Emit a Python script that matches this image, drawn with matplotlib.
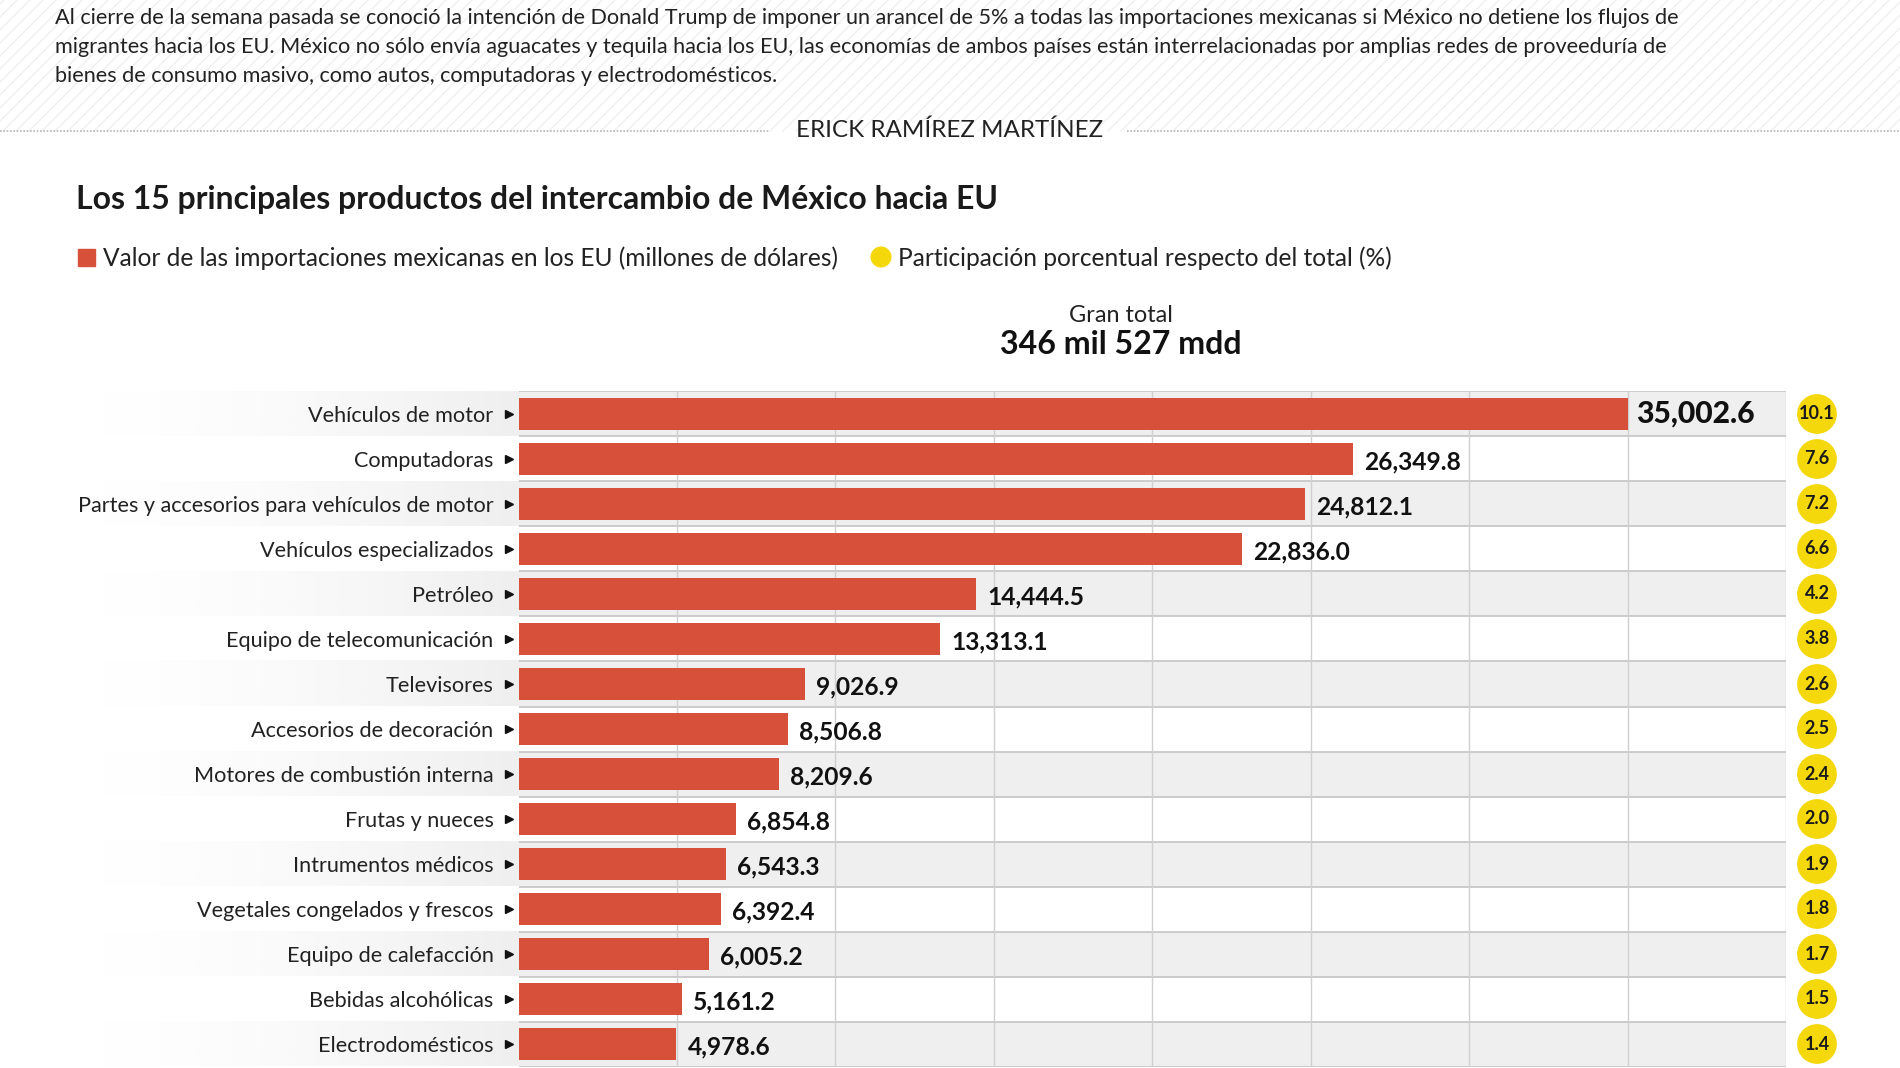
import numpy as np
import matplotlib.pyplot as plt
from matplotlib.transforms import blended_transform_factory
from matplotlib.patches import Rectangle

plt.rcParams['font.family'] = ['Lato', 'DejaVu Sans']

productos = ["Vehículos de motor", "Computadoras", "Partes y accesorios para vehículos de motor",
             "Vehículos especializados", "Petróleo", "Equipo de telecomunicación", "Televisores",
             "Accesorios de decoración", "Motores de combustión interna", "Frutas y nueces",
             "Intrumentos médicos", "Vegetales congelados y frescos", "Equipo de calefacción",
             "Bebidas alcohólicas", "Electrodomésticos"]
valores = [35002.6, 26349.8, 24812.1, 22836.0, 14444.5, 13313.1, 9026.9, 8506.8,
           8209.6, 6854.8, 6543.3, 6392.4, 6005.2, 5161.2, 4978.6]
participacion = [10.1, 7.6, 7.2, 6.6, 4.2, 3.8, 2.6, 2.5, 2.4, 2.0, 1.9, 1.8, 1.7, 1.5, 1.4]

parrafo = ["Al cierre de la semana pasada se conoció la intención de Donald Trump de imponer un arancel de 5% a todas las importaciones mexicanas si México no detiene los flujos de",
           "migrantes hacia los EU. México no sólo envía aguacates y tequila hacia los EU, las economías de ambos países están interrelacionadas por amplias redes de proveeduría de",
           "bienes de consumo masivo, como autos, computadoras y electrodomésticos."]

ROJO = '#d6503a'
AMARILLO = '#f5d80c'
GRIS = '#efefef'
W, H = 1900, 1068

fig = plt.figure(figsize=(19, 10.68), dpi=100)
fig.patch.set_facecolor('white')
renderer = fig.canvas.get_renderer()


def ajustar(t, ancho):
    # escala el tamano de letra para que el texto ocupe 'ancho' pixeles
    w = t.get_window_extent(renderer).width
    t.set_fontsize(t.get_fontsize() * ancho / w)
    return t.get_fontsize()


# fondo en pixeles
bg = fig.add_axes([0, 0, 1, 1])
bg.set_xlim(0, W)
bg.set_ylim(H, 0)
bg.axis('off')
for x0 in np.arange(-140, W + 20, 13):
    bg.plot([x0, x0 + 131], [131, 0], color='#efefef', lw=1.0, zorder=0)
bg.plot([0, 770], [131, 131], color='#b5b5b5', lw=1.2, ls=(0, (1, 1)))
bg.plot([1127, W], [131, 131], color='#b5b5b5', lw=1.2, ls=(0, (1, 1)))

for i, linea in enumerate(parrafo):
    t = bg.text(55, 18 + 29 * i, linea, fontsize=16, color='#222222', va='center', ha='left')
    if i == 0:
        fs_par = ajustar(t, 1629)
    else:
        t.set_fontsize(fs_par)
t = bg.text(950, 130, "ERICK RAMÍREZ MARTÍNEZ", fontsize=19, color='#222222', va='center', ha='center')
ajustar(t, 306)

t = bg.text(76, 200, "Los 15 principales productos del intercambio de México hacia EU",
            fontsize=25, fontweight='bold', color='#1a1a1a', va='center', ha='left')
ajustar(t, 920)
bg.add_patch(Rectangle((78, 249), 17, 17, color=ROJO))
t = bg.text(103, 258, "Valor de las importaciones mexicanas en los EU (millones de dólares)",
            fontsize=18, color='#222222', va='center', ha='left')
fs_leg = ajustar(t, 735)
bg.scatter([881], [257], s=230, color=AMARILLO, edgecolors='none')
bg.text(898, 258, "Participación porcentual respecto del total (%)",
        fontsize=fs_leg, color='#222222', va='center', ha='left')

t = bg.text(1121, 315, "Gran total", fontsize=17, color='#222222', va='center', ha='center')
ajustar(t, 104)
t = bg.text(1121, 344, "346 mil 527 mdd", fontsize=23, fontweight='bold', color='#111111',
            va='center', ha='center')
ajustar(t, 242)

# grafica de barras
ax = fig.add_axes([518.6 / W, 1.5 / H, (1786 - 518.6) / W, (1066.5 - 391.5) / H])
n = len(productos)
y = np.arange(n)
grad = np.ones((1, 200, 4))
grad[0, :, :3] = np.array([0xef, 0xef, 0xef]) / 255
grad[0, :, 3] = np.linspace(0, 1, 200) ** 1.5
for i in y:
    if i % 2 == 0:
        ax.axhspan(i - 0.5, i + 0.5, color=GRIS, zorder=0, lw=0)
        ax.imshow(grad, extent=[-13500, 0, i + 0.5, i - 0.5], aspect='auto',
                  clip_on=False, zorder=0, interpolation='bilinear')
for i in np.arange(n + 1) - 0.5:
    ax.axhline(i, color='#c4c4c4', lw=1.2, zorder=1)
for xv in np.arange(5000, 40001, 5000):
    ax.axvline(xv, color='#d0d0d0', lw=1.0, zorder=1)

ax.barh(y, valores, height=0.72, color=ROJO, zorder=2)
etiquetas = []
for i, v in enumerate(valores):
    if i == 0:
        a = ax.annotate(f"{v:,.1f}", (v, i), xytext=(6, 0), textcoords='offset points',
                        fontsize=22, fontweight='black', va='center', ha='left', color='#111111')
        ajustar(a, 119)
    else:
        a = ax.annotate(f"{v:,.1f}", (v, i), xytext=(8, -2), textcoords='offset points',
                        fontsize=17, fontweight='bold', va='center', ha='left', color='#111111')
        etiquetas.append(a)
fs_val = ajustar(etiquetas[0], 97)
for a in etiquetas:
    a.set_fontsize(fs_val)

ax.set_xlim(0, 40000)
ax.set_ylim(n - 0.5, -0.5)
ax.set_xticks([])
ax.set_yticks(y, productos, fontsize=16, color='#222222')
ax.tick_params(axis='y', length=0, pad=18)
ticks = ax.get_yticklabels()
fs_lab = ajustar(ticks[2], 418)
ax.tick_params(axis='y', labelsize=fs_lab)
for s in ax.spines.values():
    s.set_visible(False)

tr = blended_transform_factory(ax.transAxes, ax.transData)
ax.plot(np.full(n, -0.0075), y, ls='none', marker='>', ms=6, color='#111111',
        transform=tr, clip_on=False)

# circulos de participacion
ax2 = fig.add_axes([1797 / W, 1.5 / H, 40 / W, (1066.5 - 391.5) / H])
ax2.set_xlim(-1, 1)
ax2.set_ylim(n - 0.5, -0.5)
ax2.axis('off')
ax2.scatter(np.zeros(n), y, s=820, color=AMARILLO, edgecolors='none')
for i, p in enumerate(participacion):
    ax2.text(0, i, f"{p:.1f}", fontsize=13, fontweight='bold', color='#1a1a1a',
             ha='center', va='center')

fig.savefig('out.png', dpi=100, facecolor='white')
